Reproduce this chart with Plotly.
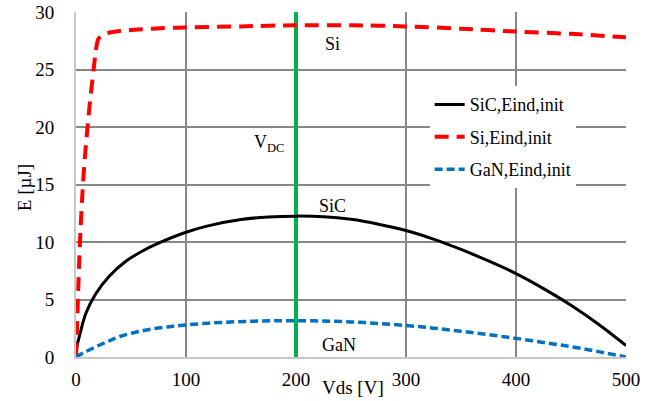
import plotly.graph_objects as go

# Switching energy vs drain-source voltage
vds_si = [0, 1, 2, 3, 4, 6, 8, 10, 12, 14, 16, 18, 20, 24, 30, 40, 60, 80, 100,
          150, 200, 250, 300, 350, 400, 450, 500]
e_si = [0, 2.8, 5.8, 8.5, 10.8, 14.5, 17.3, 19.5, 21.5, 23.3, 25.0, 26.6, 27.6,
        28.0, 28.2, 28.35, 28.5, 28.6, 28.65, 28.75, 28.85, 28.85, 28.75, 28.55,
        28.3, 28.1, 27.8]

vds_sic = [0, 1, 3, 9, 18, 30, 45, 60, 75, 100, 120, 150, 175, 200, 225, 250,
           275, 300, 325, 350, 375, 400, 425, 450, 475, 500]
e_sic = [0, 1.0, 1.77, 3.8, 5.5, 7.0, 8.3, 9.2, 9.9, 10.85, 11.4, 11.95, 12.18,
         12.25, 12.2, 11.97, 11.55, 11.0, 10.25, 9.35, 8.35, 7.25, 5.95, 4.5, 2.85,
         1.0]

vds_gan = [0, 5, 10, 20, 30, 40, 55, 70, 85, 100, 120, 140, 160, 180, 200, 225,
           250, 275, 300, 325, 350, 375, 400, 425, 450, 475, 500]
e_gan = [0, 0.27, 0.52, 0.98, 1.4, 1.78, 2.17, 2.45, 2.64, 2.79, 2.94, 3.04, 3.11,
         3.15, 3.16, 3.13, 3.05, 2.92, 2.74, 2.51, 2.24, 1.94, 1.62, 1.27, 0.9, 0.47,
         0.0]

v_dc = 200
x_ticks = [0, 100, 200, 300, 400, 500]
y_ticks = [0, 5, 10, 15, 20, 25, 30]

FONT = "'Liberation Serif', 'Times New Roman', Times, serif"
GRID = "#878787"

fig = go.Figure()

# DC-link voltage marker
fig.add_trace(go.Scatter(x=[v_dc, v_dc], y=[0, 30], mode="lines",
                         line=dict(color="#00B050", width=4),
                         showlegend=False, hoverinfo="skip"))

fig.add_trace(go.Scatter(x=vds_sic, y=e_sic, mode="lines", name="SiC,Eind,init",
                         line=dict(color="black", width=3, shape="spline",
                                   smoothing=1.0),
                         legendgroup="a"))
fig.add_trace(go.Scatter(x=vds_si, y=e_si, mode="lines", name="Si,Eind,init",
                         line=dict(color="#FF0000", width=4, dash="14px,8px",
                                   shape="spline", smoothing=0.6),
                         legendgroup="b"))
fig.add_trace(go.Scatter(x=vds_gan, y=e_gan, mode="lines", name="GaN,Eind,init",
                         line=dict(color="#0070C0", width=3.5, dash="8px,4px",
                                   shape="spline", smoothing=1.0),
                         legendgroup="c"))

labels = [("Si", 233.6, 27.2), ("V<sub>DC</sub>", 176, 18.6),
          ("SiC", 233.6, 13.1), ("GaN", 239, 1.05)]
for txt, x, y in labels:
    fig.add_annotation(x=x, y=y, text=txt, showarrow=False,
                       font=dict(family=FONT, size=18, color="black"))

fig.add_annotation(x=0.503, y=-0.125, xref="paper", yref="paper", text="Vds [V]",
                   showarrow=False, font=dict(family=FONT, size=19, color="black"))
fig.add_annotation(x=-0.115, y=0.49, xref="paper", yref="paper", text="E [µJ]",
                   textangle=-90, showarrow=False,
                   font=dict(family=FONT, size=19, color="black"))

fig.update_xaxes(range=[0, 500], tickvals=x_ticks, showgrid=True, gridcolor=GRID,
                 gridwidth=1.5, zeroline=False, showline=True, linecolor="#C8C8C8",
                 linewidth=2, ticks="", ticklabelstandoff=4, automargin=False,
                 tickfont=dict(family=FONT, size=19, color="black"))
fig.update_yaxes(range=[0, 30], tickvals=y_ticks, showgrid=True, gridcolor=GRID,
                 gridwidth=1.5, zeroline=False, showline=True, linecolor="#C8C8C8",
                 linewidth=2, ticks="", ticklabelstandoff=16, automargin=False,
                 tickfont=dict(family=FONT, size=19, color="black"))

fig.update_layout(
    width=656, height=401,
    margin=dict(l=76, r=30, t=12, b=44, autoexpand=False),
    plot_bgcolor="white", paper_bgcolor="white",
    font=dict(family=FONT, color="black"),
    legend=dict(x=0.643, y=0.785, xanchor="left", yanchor="top",
                bgcolor="white", borderwidth=0, tracegroupgap=6,
                font=dict(family=FONT, size=18, color="black")),
)

fig.write_html("out.html")
